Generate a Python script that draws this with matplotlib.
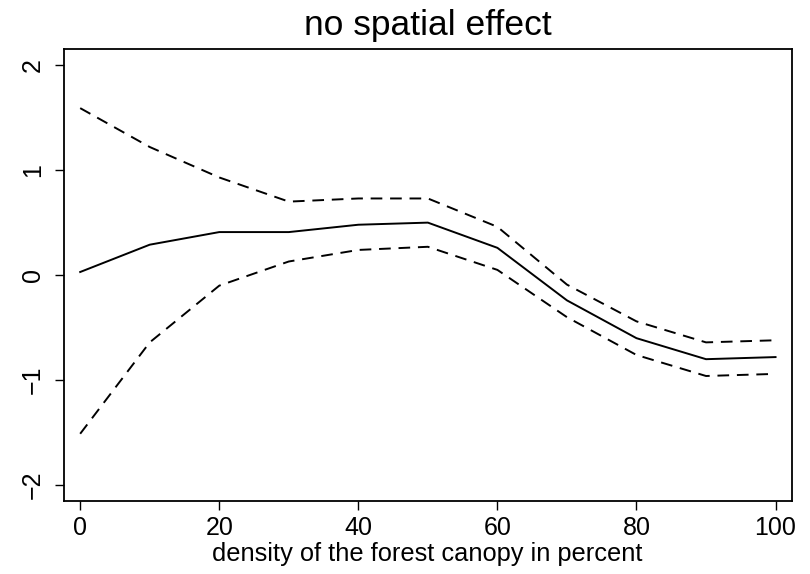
import matplotlib.pyplot as plt

plt.rcParams['font.family'] = ['Liberation Sans', 'DejaVu Sans']

# canopy density grid and smooth effect with pointwise bands
density = [0, 10, 20, 30, 40, 50, 60, 70, 80, 90, 100]
effect = [0.03, 0.29, 0.41, 0.41, 0.48, 0.50, 0.26, -0.24, -0.60, -0.80, -0.78]
upper = [1.59, 1.22, 0.93, 0.70, 0.73, 0.73, 0.46, -0.09, -0.44, -0.64, -0.62]
lower = [-1.51, -0.64, -0.10, 0.13, 0.24, 0.27, 0.05, -0.40, -0.76, -0.96, -0.94]

xticks = [0, 20, 40, 60, 80, 100]
yticks = [-2, -1, 0, 1, 2]

fig = plt.figure(figsize=(8.1, 5.74), dpi=100)
ax = fig.add_axes([0.0784, 0.1272, 0.8988, 0.7869])

ax.plot(density, effect, color='black', lw=1.4)
ax.plot(density, upper, color='black', lw=1.4, dashes=(6, 4))
ax.plot(density, lower, color='black', lw=1.4, dashes=(6, 4))

ax.set_xlim(-2.4, 102.3)
ax.set_ylim(-2.15, 2.15)
ax.set_xticks(xticks)
ax.set_yticks(yticks)
ax.set_yticklabels([str(t).replace('-', '\u2212') for t in yticks], rotation=90, va='center')
ax.tick_params(direction='out', length=6.5, width=1, labelsize=18, color='black')
ax.tick_params(axis='x', pad=4)
ax.tick_params(axis='y', pad=7)
for s in ax.spines.values():
    s.set_linewidth(1.3)

ax.set_title('no spatial effect', fontsize=25.5, pad=10)
ax.set_xlabel('density of the forest canopy in percent', fontsize=18.3, labelpad=2)

fig.savefig('out.png', dpi=100)
